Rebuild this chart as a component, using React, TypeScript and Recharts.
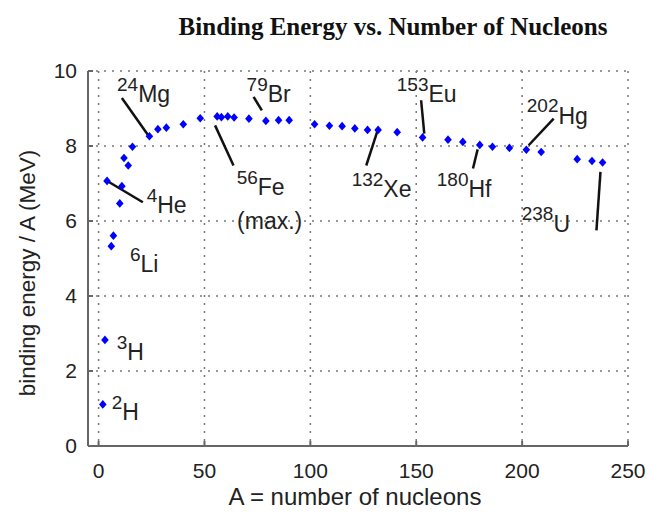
import React from "react";
import { ScatterChart, Scatter, XAxis, YAxis, CartesianGrid, ReferenceLine } from "recharts";

// Nuclide mass numbers and binding energy per nucleon (MeV)
const massNumbers = [2, 3, 4, 6, 7, 10, 11, 12, 14, 16, 24, 28, 32, 40, 48, 56, 58, 61, 64, 71, 79, 85, 90, 102, 109, 115, 121, 127, 132, 141, 153, 165, 172, 180, 186, 194, 202, 209, 226, 233, 238];
const bindingEnergies = [1.11, 2.83, 7.07, 5.33, 5.61, 6.47, 6.93, 7.68, 7.48, 7.98, 8.26, 8.45, 8.49, 8.58, 8.74, 8.79, 8.77, 8.79, 8.76, 8.73, 8.67, 8.69, 8.69, 8.58, 8.54, 8.53, 8.47, 8.43, 8.43, 8.37, 8.23, 8.17, 8.11, 8.03, 7.98, 7.95, 7.9, 7.84, 7.65, 7.6, 7.56];

// Tick labels
const xTicks = [0, 50, 100, 150, 200, 250];
const yTicks = [0, 2, 4, 6, 8, 10];

// Annotations (text anchored in data coordinates)
const labelSup = ["24", "4", "56", "", "79", "132", "153", "180", "202", "238", "6", "3", "2"];
const labelMain = ["Mg", "He", "Fe", "(max.)", "Br", "Xe", "Eu", "Hf", "Hg", "U", "Li", "H", "H"];
const labelX = [8.7, 22.7, 65.2, 65.4, 69.9, 119.5, 140.8, 159.7, 202.2, 199.8, 14.8, 8.55, 6.2];
const labelY = [9.17, 6.21, 6.69, 5.8, 9.17, 6.64, 9.17, 6.64, 8.6, 5.71, 4.64, 2.29, 0.69];

// Leader lines
const leaderStartX = [11, 3.1, 55, 73.2, 131.5, 152.3, 179, 203.1, 237];
const leaderStartY = [9.28, 7.1, 8.55, 9.31, 8.37, 9.22, 7.91, 8.02, 7.31];
const leaderEndX = [23.5, 20.9, 63.7, 77.1, 126.4, 153.8, 176.8, 214.9, 235.1];
const leaderEndY = [8.28, 6.5, 7.48, 8.95, 7.48, 8.33, 7.4, 8.73, 5.75];

const points = massNumbers.map((a, i) => ({ x: a, y: bindingEnergies[i] }));
const annotations = labelMain.map((m, i) => ({ x: labelX[i], y: labelY[i], sup: labelSup[i], main: m }));

const SANS = "'Liberation Sans', Arial, Helvetica, sans-serif";

const Diamond = (props: any) => {
  const { cx, cy } = props;
  if (cx == null || cy == null) return <g />;
  return (
    <polygon
      points={`${cx},${cy - 4.3} ${cx + 3.8},${cy} ${cx},${cy + 4.3} ${cx - 3.8},${cy}`}
      fill="#0000ff"
    />
  );
};

const AnnotationText = (props: any) => {
  const { cx, cy, payload } = props;
  if (cx == null || cy == null) return <g />;
  return (
    <text x={cx} y={cy} fontFamily={SANS} fontSize={23} fill="#222">
      {payload.sup ? (
        <tspan fontSize={19} dy={-11.5}>{payload.sup}</tspan>
      ) : null}
      <tspan dy={payload.sup ? 11.5 : 0}>{payload.main}</tspan>
    </text>
  );
};

export default function App() {
  return (
    <div style={{ position: "absolute", left: 0, top: 0, width: 651, height: 512, background: "#fff" }}>
      <ScatterChart width={651} height={512} margin={{ top: 71, right: 23, bottom: 0, left: 0 }}>
        <CartesianGrid stroke="#777" strokeWidth={1.5} strokeDasharray="2 6" />
        <XAxis
          type="number"
          dataKey="x"
          domain={[-5, 250]}
          ticks={xTicks}
          allowDataOverflow
          height={66}
          tickSize={-5}
          tickMargin={22}
          stroke="#666"
          strokeWidth={2}
          tick={{ fontFamily: SANS, fontSize: 21, fill: "#222" }}
        />
        <YAxis
          type="number"
          dataKey="y"
          domain={[0, 10]}
          ticks={yTicks}
          allowDataOverflow
          width={88}
          tickSize={-5}
          tickMargin={16}
          stroke="#666"
          strokeWidth={2}
          tick={{ fontFamily: SANS, fontSize: 21, fill: "#222" }}
        />
        {leaderStartX.map((sx, i) => (
          <ReferenceLine
            key={"l" + i}
            segment={[
              { x: sx, y: leaderStartY[i] },
              { x: leaderEndX[i], y: leaderEndY[i] },
            ]}
            stroke="#111"
            strokeWidth={2.5}
          />
        ))}
        <Scatter data={points} shape={Diamond} isAnimationActive={false} />
        <Scatter data={annotations} shape={AnnotationText} isAnimationActive={false} />
      </ScatterChart>
      <svg
        width={651}
        height={512}
        style={{ position: "absolute", left: 0, top: 0, pointerEvents: "none" }}
      >
        <text
          x={393}
          y={35}
          textAnchor="middle"
          fontFamily="'Liberation Serif', 'Times New Roman', serif"
          fontWeight="bold"
          fontSize={25}
          fill="#111"
        >
          Binding Energy vs. Number of Nucleons
        </text>
        <text x={355} y={505} textAnchor="middle" fontFamily={SANS} fontSize={24} fill="#222">
          A = number of nucleons
        </text>
        <text
          x={35}
          y={273}
          textAnchor="middle"
          transform="rotate(-90, 35, 273)"
          fontFamily={SANS}
          fontSize={22.5}
          fill="#222"
        >
          binding energy / A (MeV)
        </text>
      </svg>
    </div>
  );
}
